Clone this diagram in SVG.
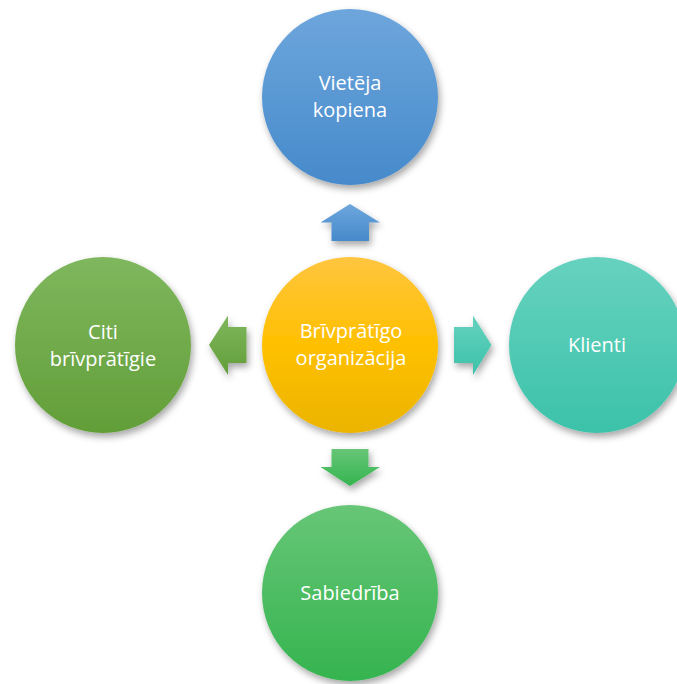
<svg xmlns="http://www.w3.org/2000/svg" width="677" height="684" viewBox="0 0 677 684">
<defs>
<filter id="sh" x="-20%" y="-20%" width="150%" height="150%"><feDropShadow dx="2" dy="4" stdDeviation="3.5" flood-color="#000" flood-opacity="0.35"/></filter>
<linearGradient id="gBlue" x1="0" y1="0" x2="0" y2="1"><stop offset="0" stop-color="#6DA6DC"/><stop offset="1" stop-color="#468ACB"/></linearGradient>
<linearGradient id="gGold" x1="0" y1="0" x2="0" y2="1"><stop offset="0" stop-color="#FFC53F"/><stop offset="0.5" stop-color="#FFC000"/><stop offset="1" stop-color="#EBB400"/></linearGradient>
<linearGradient id="gLeaf" x1="0" y1="0" x2="0" y2="1"><stop offset="0" stop-color="#7FB75E"/><stop offset="1" stop-color="#629E38"/></linearGradient>
<linearGradient id="gTeal" x1="0" y1="0" x2="0" y2="1"><stop offset="0" stop-color="#66D2BF"/><stop offset="1" stop-color="#3CC2A9"/></linearGradient>
<linearGradient id="gGreen" x1="0" y1="0" x2="0" y2="1"><stop offset="0" stop-color="#67C677"/><stop offset="1" stop-color="#35B44F"/></linearGradient>
</defs>
<style>
text{font-family:"Open Sans","Noto Sans","Liberation Sans",sans-serif;font-size:20px;fill:#fff;text-anchor:middle}
.c{filter:url(#sh)}
</style>
<g id="connectors">
<polygon class="c" fill="url(#gBlue)" points="350,204 380,222.5 369,222.5 369,241 331.5,241 331.5,222.5 320.5,222.5"/>
<polygon class="c" fill="url(#gGreen)" points="331.5,449 368.5,449 368.5,467 380,467 350,486 320.5,467 331.5,467"/>
<polygon class="c" fill="url(#gLeaf)" points="209,345 228,315.5 228,327 246.5,327 246.5,363 228,363 228,375"/>
<polygon class="c" fill="url(#gTeal)" points="454,327 473,327 473,315.5 491.5,345 473,375 473,363 454,363"/>
</g>
<g id="node-top"><circle class="c" cx="350" cy="97" r="88" fill="url(#gBlue)"/><text x="350" y="90">Vietēja</text><text x="350" y="117">kopiena</text></g>
<g id="node-center"><circle class="c" cx="350" cy="345" r="88" fill="url(#gGold)"/><text x="351" y="338">Brīvprātīgo</text><text x="351" y="365">organizācija</text></g>
<g id="node-left"><circle class="c" cx="103" cy="345" r="88" fill="url(#gLeaf)"/><text x="103" y="339">Citi</text><text x="103" y="366">brīvprātīgie</text></g>
<g id="node-right"><circle class="c" cx="597" cy="345" r="88" fill="url(#gTeal)"/><text x="597" y="352">Klienti</text></g>
<g id="node-bottom"><circle class="c" cx="350" cy="593" r="88" fill="url(#gGreen)"/><text x="350" y="600">Sabiedrība</text></g>
</svg>
